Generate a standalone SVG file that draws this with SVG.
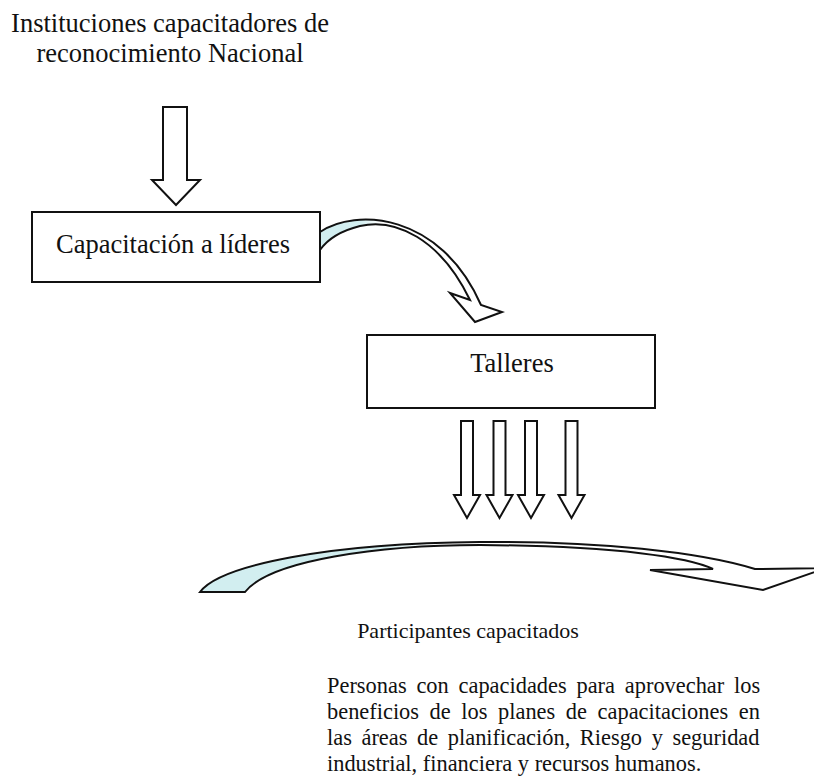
<svg xmlns="http://www.w3.org/2000/svg" width="814" height="777" viewBox="0 0 814 777">
  <style>
    .t { font-family: "Liberation Serif", "Times New Roman", serif; fill: #111; }
    .box { fill: #fff; stroke: #111; stroke-width: 2; }
    .arr { fill: #fff; stroke: #111; stroke-width: 2; stroke-linejoin: miter; }
  </style>
  <defs>
    <linearGradient id="g1" gradientUnits="userSpaceOnUse" x1="320" y1="0" x2="400" y2="0">
      <stop offset="0" stop-color="#d2eef0"/>
      <stop offset="0.5" stop-color="#d2eef0"/>
      <stop offset="0.75" stop-color="#ffffff"/>
    </linearGradient>
    <linearGradient id="g2" gradientUnits="userSpaceOnUse" x1="200" y1="0" x2="460" y2="0">
      <stop offset="0" stop-color="#d2eef0"/>
      <stop offset="0.7" stop-color="#d2eef0"/>
      <stop offset="0.9" stop-color="#ffffff"/>
    </linearGradient>
  </defs>
  <rect width="814" height="777" fill="#fff"/>

  <g id="instituciones">
    <text class="t" font-size="26.5" text-anchor="middle" x="170" y="32">Instituciones capacitadores de</text>
    <text class="t" font-size="26.5" text-anchor="middle" x="170" y="62">reconocimiento Nacional</text>
  </g>

  <g id="capacitacion">
    <rect class="box" x="32" y="212" width="288" height="70"/>
    <text class="t" font-size="26.5" text-anchor="middle" x="173" y="253">Capacitación a líderes</text>
  </g>

  <g id="talleres">
    <rect class="box" x="367" y="335" width="288" height="73"/>
    <text class="t" font-size="26.5" text-anchor="middle" x="512" y="372">Talleres</text>
  </g>

  <g id="participantes">
    <text class="t" font-size="22" text-anchor="middle" x="468" y="638">Participantes capacitados</text>
  </g>

  <g id="descripcion">
    <text class="t" font-size="22.4" x="327" y="693" word-spacing="4.2">Personas con capacidades para aprovechar los</text>
    <text class="t" font-size="22.4" x="327" y="719" word-spacing="5">beneficios de los planes de capacitaciones en</text>
    <text class="t" font-size="22.4" x="327" y="745" word-spacing="4">las áreas de planificación, Riesgo y seguridad</text>
    <text class="t" font-size="22.4" x="327" y="771">industrial, financiera y recursos humanos.</text>
  </g>

  <g id="connectors">
    <polygon class="arr" points="163,107 187,107 187,180 200,180 176,205 152,180 163,180"/>
    <path class="arr" style="fill:url(#g1)" d="M320,232 C355,208 440,212 481,305 L502,312 L475,322 L450,293 L470,300 C440,238 395,218 360,226 C340,231 327,240 320,250 Z"/>
    <polygon class="arr" points="461,421 473,421 473,495 480,495 467,518 454,495 461,495"/>
    <polygon class="arr" points="493.5,421 505.5,421 505.5,495 512.5,495 499.5,518 486.5,495 493.5,495"/>
    <polygon class="arr" points="525,421 537,421 537,495 544,495 531,518 518,495 525,495"/>
    <polygon class="arr" points="565.5,421 577.5,421 577.5,495 584.5,495 571.5,518 558.5,495 565.5,495"/>
    <path class="arr" style="fill:url(#g2)" d="M200,592 C220,565 330,543 480,542 C600,541 700,552 755,569 L826,568 L763,590 L650,570 L713,569 C690,558 620,546 480,545 C380,545 270,560 245,592 Z"/>
  </g>
</svg>
